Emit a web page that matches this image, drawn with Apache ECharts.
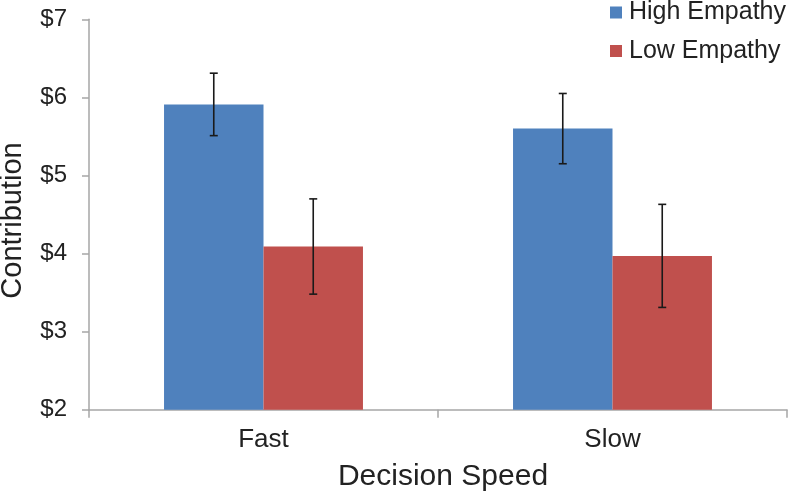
<!DOCTYPE html>
<html>
<head>
<meta charset="utf-8">
<script src="https://cdn.jsdelivr.net/npm/echarts@6/dist/echarts.min.js"></script>
<style>html,body{margin:0;padding:0;background:#fff}#c{width:792px;height:492px}</style>
</head>
<body>
<div id="c"></div>
<script>
var categories = ['Fast', 'Slow'];
var seriesNames = ['High Empathy', 'Low Empathy'];
var highEmpathy = [5.91, 5.60];
var lowEmpathy = [4.09, 3.97];
var highErr = [0.40, 0.45];
var lowErr = [0.61, 0.66];
var yTicks = [2, 3, 4, 5, 6, 7];

var FONT = "'Liberation Sans', Arial, sans-serif";
var TXT = '#222222';
var AX = '#a6a6a6';
var CAT_GAP = 0.43;

function errSeries(values, errs, idx) {
  var data = values.map(function (v, i) { return [i, v - errs[i], v + errs[i]]; });
  return {
    type: 'custom',
    name: seriesNames[idx] + ' error',
    z: 10,
    silent: true,
    data: data,
    encode: { x: 0, y: [1, 2] },
    renderItem: function (params, api) {
      var ci = api.value(0);
      var lo = api.coord([ci, api.value(1)]);
      var hi = api.coord([ci, api.value(2)]);
      var band = api.size([1, 0])[0];
      var bw = band * (1 - CAT_GAP) / 2;
      var x = lo[0] + (idx === 0 ? -bw / 2 : bw / 2);
      var cap = 4;
      var style = { stroke: '#1a1a1a', lineWidth: 1.6 };
      return {
        type: 'group',
        children: [
          { type: 'line', shape: { x1: x, y1: lo[1], x2: x, y2: hi[1] }, style: style },
          { type: 'line', shape: { x1: x - cap, y1: lo[1], x2: x + cap, y2: lo[1] }, style: style },
          { type: 'line', shape: { x1: x - cap, y1: hi[1], x2: x + cap, y2: hi[1] }, style: style }
        ]
      };
    }
  };
}

var chart = echarts.init(document.getElementById('c'), null, { renderer: 'canvas' });
chart.setOption({
  animation: false,
  backgroundColor: '#ffffff',
  textStyle: { fontFamily: FONT, color: TXT },
  grid: { left: 89, right: 5, top: 19.3, bottom: 82.3, containLabel: false, outerBoundsMode: 'none' },
  legend: {
    data: seriesNames,
    orient: 'vertical',
    left: 610,
    top: 0,
    padding: 0,
    itemWidth: 12,
    itemHeight: 12,
    itemGap: 13.5,
    icon: 'rect',
    textStyle: { fontSize: 25, color: TXT, fontFamily: FONT, padding: [0, 0, 0, 2] }
  },
  xAxis: {
    type: 'category',
    data: categories,
    name: 'Decision Speed',
    nameLocation: 'middle',
    nameGap: 52,
    nameTextStyle: { fontSize: 30, color: TXT, fontFamily: FONT, padding: [0, 0, 0, 10] },
    axisLine: { lineStyle: { color: AX, width: 1.5 } },
    axisTick: { show: true, length: 8, lineStyle: { color: AX, width: 1.5 } },
    axisLabel: { fontSize: 26, color: TXT, margin: 17, fontFamily: FONT },
    splitLine: { show: false }
  },
  yAxis: {
    type: 'value',
    min: yTicks[0],
    max: yTicks[yTicks.length - 1],
    interval: 1,
    name: 'Contribution',
    nameLocation: 'middle',
    nameGap: 62,
    nameTextStyle: { fontSize: 29, color: TXT, fontFamily: FONT, padding: [0, 12, 0, 0] },
    axisLine: { show: true, lineStyle: { color: AX, width: 1.5 } },
    axisTick: { show: true, length: 7, lineStyle: { color: AX, width: 1.5 } },
    axisLabel: { fontSize: 24, color: TXT, margin: 22, fontFamily: FONT, formatter: function (v) { return '$' + v; } },
    splitLine: { show: false }
  },
  series: [
    { type: 'bar', name: seriesNames[0], data: highEmpathy, itemStyle: { color: '#4f81bd' }, barGap: '0%', barCategoryGap: (CAT_GAP * 100) + '%' },
    { type: 'bar', name: seriesNames[1], data: lowEmpathy, itemStyle: { color: '#c0504d' }, barGap: '0%', barCategoryGap: (CAT_GAP * 100) + '%' },
    errSeries(highEmpathy, highErr, 0),
    errSeries(lowEmpathy, lowErr, 1)
  ]
});
</script>
</body>
</html>
